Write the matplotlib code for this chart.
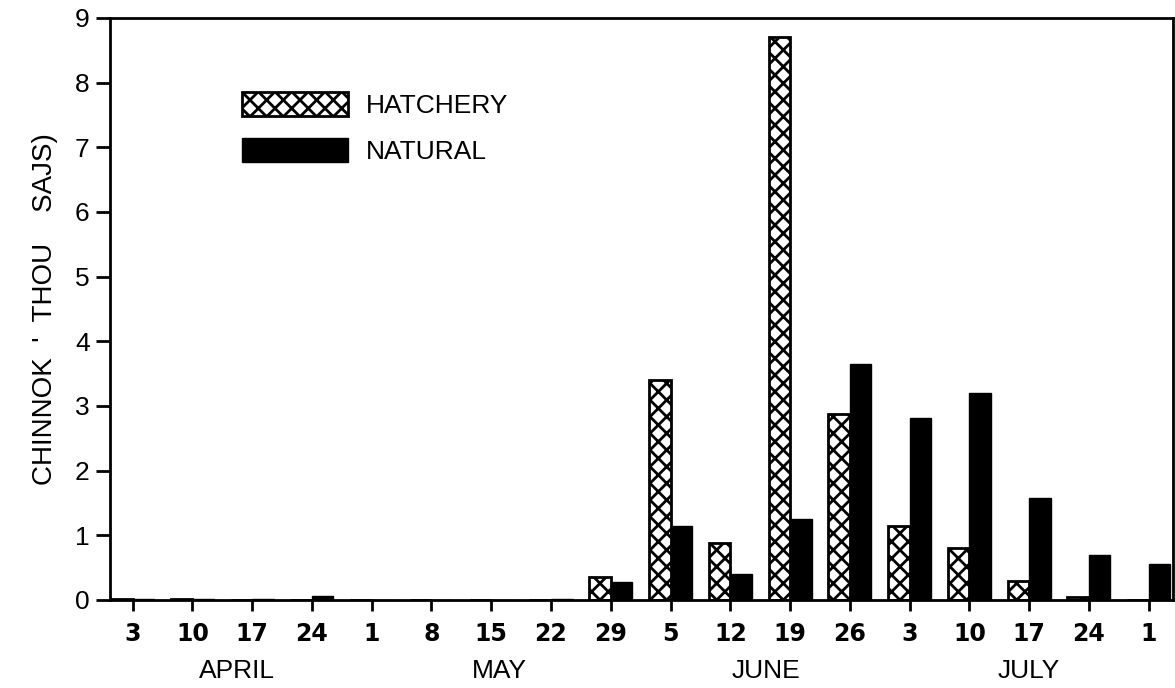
import numpy as np
import matplotlib
matplotlib.use("Agg")
import matplotlib.pyplot as plt
from matplotlib.patches import Patch

# weekly counts, thousands of chinook
weeks = ["3", "10", "17", "24", "1", "8", "15", "22", "29",
         "5", "12", "19", "26", "3", "10", "17", "24", "1"]
hatchery = [0.02, 0.01, 0.0, 0.0, 0.0, 0.0, 0.0, 0.0, 0.35,
            3.4, 0.88, 8.7, 2.88, 1.15, 0.8, 0.3, 0.05, 0.0]
natural = [0.01, 0.01, 0.01, 0.06, 0.0, 0.0, 0.0, 0.02, 0.28,
           1.15, 0.4, 1.25, 3.65, 2.82, 3.2, 1.57, 0.7, 0.55]
months = ["APRIL", "MAY", "JUNE", "JULY"]
month_pos = [1.75, 6.13, 10.6, 15.0]

plt.rcParams['font.family'] = ['Liberation Sans', 'DejaVu Sans']
plt.rcParams['hatch.linewidth'] = 2.0

fig = plt.figure(figsize=(11.75, 6.88), dpi=100)
ax = fig.add_axes([0.094, 0.128, 0.904, 0.846])

x = np.arange(len(weeks))
w = 0.36
ax.bar(x, hatchery, width=-w, align='edge', color='white', edgecolor='black',
       hatch='xx', linewidth=2, label='HATCHERY')
ax.bar(x, natural, width=w, align='edge', color='black', edgecolor='black',
       linewidth=1, label='NATURAL')

ax.set_xlim(-0.37, 17.4)
ax.set_ylim(0, 9)
ax.set_yticks(range(10))
ax.set_yticklabels([str(i) for i in range(10)], fontsize=19)
ax.set_xticks(x)
ax.set_xticklabels(weeks, fontsize=17, fontweight='bold', family='DejaVu Sans')
ax.tick_params(axis='both', direction='out', width=2, length=10, color='black')
ax.tick_params(axis='x', pad=8, length=8)
ax.tick_params(axis='y', pad=5)
for s in ax.spines.values():
    s.set_linewidth(2)

for m, p in zip(months, month_pos):
    ax.text(p, -0.122, m, transform=ax.get_xaxis_transform(), ha='center',
            va='center', fontsize=19)

ax.set_ylabel("CHINNOK  '  THOU    SAJS)", fontsize=20, labelpad=12)

handles = [Patch(facecolor='white', edgecolor='black', hatch='xx', linewidth=2),
           Patch(facecolor='black', edgecolor='black')]
ax.legend(handles, ['HATCHERY', 'NATURAL'], loc='upper left',
          bbox_to_anchor=(0.124, 0.873), frameon=False, fontsize=19,
          borderpad=0, borderaxespad=0,
          handlelength=4.0, handleheight=1.05, labelspacing=0.75,
          handletextpad=0.7)

fig.savefig("out.png", dpi=100)
